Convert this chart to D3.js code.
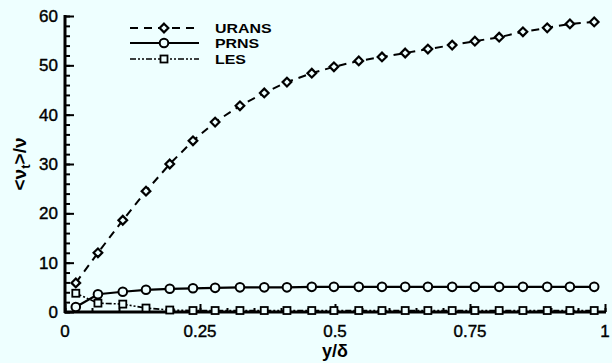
<!DOCTYPE html>
<html>
<head>
<meta charset="utf-8">
<script src="https://cdn.jsdelivr.net/npm/d3@7"></script>
<style>
  html, body { margin: 0; padding: 0; background: #eeffff; }
  svg { display: block; font-family: "Liberation Sans", Arial, sans-serif; }
</style>
</head>
<body>
<div id="chart"></div>
<script>
// y/delta positions of the samples (same for every series)
var yPos = [0.02, 0.061, 0.107, 0.15, 0.194, 0.237, 0.278, 0.324, 0.369, 0.411, 0.457, 0.498,
            0.544, 0.587, 0.63, 0.672, 0.717, 0.759, 0.804, 0.848, 0.893, 0.935, 0.98];

var urans = [5.9, 12.0, 18.6, 24.5, 30.0, 34.7, 38.5, 41.8, 44.4, 46.6, 48.4, 49.7,
             50.9, 51.7, 52.5, 53.3, 54.1, 54.9, 55.7, 56.8, 57.6, 58.4, 58.8];
var prns  = [1.0, 3.6, 4.1, 4.5, 4.7, 4.8, 4.9, 5.0, 5.0, 5.0, 5.1, 5.1,
             5.1, 5.1, 5.1, 5.1, 5.1, 5.1, 5.1, 5.1, 5.1, 5.1, 5.1];
var les   = [3.8, 1.8, 1.6, 0.8, 0.4, 0.3, 0.3, 0.3, 0.3, 0.3, 0.3, 0.3,
             0.3, 0.3, 0.3, 0.3, 0.3, 0.3, 0.3, 0.3, 0.3, 0.3, 0.3];

var xTicks = [0, 0.25, 0.5, 0.75, 1];
var xTickLabels = ["0", "0.25", "0.5", "0.75", "1"];
var yTicks = [0, 10, 20, 30, 40, 50, 60];

var seriesNames = ["URANS", "PRNS", "LES"];

const width = 612, height = 363;
const margin = {top: 16, right: 7, bottom: 51, left: 65};

const svg = d3.select("#chart").append("svg")
    .attr("width", width)
    .attr("height", height);

svg.append("rect")
    .attr("width", width).attr("height", height)
    .attr("fill", "#eeffff");

const x = d3.scaleLinear()
    .domain([0, 1])
    .range([margin.left, width - margin.right]);

const y = d3.scaleLinear()
    .domain([0, 60])
    .range([height - margin.bottom, margin.top]);

// series styles
const styles = {
    URANS: {dash: "8,6", width: 2, marker: "diamond"},
    PRNS:  {dash: null, width: 2.2, marker: "circle"},
    LES:   {dash: "6,2,2,2,2,2", width: 1.6, marker: "square"}
};

function drawMarker(g, type, cx, cy) {
    if (type === "diamond") {
        g.append("path")
            .attr("d", d3.symbol(d3.symbolDiamond2, 48)())
            .attr("transform", `translate(${cx},${cy})`)
            .attr("fill", "#eeffff").attr("stroke", "#000").attr("stroke-width", 2.2);
    } else if (type === "circle") {
        g.append("circle")
            .attr("cx", cx).attr("cy", cy).attr("r", 4.3)
            .attr("fill", "#eeffff").attr("stroke", "#000").attr("stroke-width", 2);
    } else {
        g.append("rect")
            .attr("x", cx - 3.5).attr("y", cy - 3.5)
            .attr("width", 7).attr("height", 7)
            .attr("fill", "#eeffff").attr("stroke", "#000").attr("stroke-width", 1.8);
    }
}

const data = {URANS: urans, PRNS: prns, LES: les};

const line = d3.line()
    .x(d => x(d[0]))
    .y(d => y(d[1]));

// axes (drawn before the data so the markers sit on top)
const xMinor = d3.range(0, 1.0001, 0.05);
const yMinor = d3.range(0, 60.0001, 2);

const xAxis = svg.append("g")
    .attr("transform", `translate(0,${y(0)})`);
xAxis.call(d3.axisTop(x).tickValues(xMinor).tickSize(4).tickFormat(""));
xAxis.append("g").call(d3.axisTop(x).tickValues(xTicks).tickSize(8).tickFormat(""));
xAxis.selectAll(".domain").remove();
xAxis.selectAll("line").attr("stroke", "#000").attr("stroke-width", 2);
xAxis.append("line")
    .attr("x1", x(0) - 1).attr("x2", x(1) + 1)
    .attr("stroke", "#000").attr("stroke-width", 3);

xAxis.selectAll(".xlab")
    .data(xTicks)
    .enter().append("text")
    .attr("class", "xlab")
    .attr("x", d => x(d))
    .attr("y", 25)
    .attr("text-anchor", "middle")
    .attr("font-size", 17)
    .attr("fill", "#000")
    .attr("stroke", "#000")
    .attr("stroke-width", 0.4)
    .text((d, i) => xTickLabels[i]);

const yAxis = svg.append("g")
    .attr("transform", `translate(${x(0)},0)`);
yAxis.call(d3.axisRight(y).tickValues(yMinor).tickSize(5).tickFormat(""));
yAxis.append("g").call(d3.axisRight(y).tickValues(yTicks).tickSize(9).tickFormat(""));
yAxis.selectAll(".domain").remove();
yAxis.selectAll("line").attr("stroke", "#000").attr("stroke-width", 2);
yAxis.append("line")
    .attr("y1", y(60) - 1).attr("y2", y(0) + 1)
    .attr("stroke", "#000").attr("stroke-width", 3);

yAxis.selectAll(".ylab")
    .data(yTicks)
    .enter().append("text")
    .attr("class", "ylab")
    .attr("x", -7)
    .attr("y", d => y(d) + 6)
    .attr("text-anchor", "end")
    .attr("font-size", 17)
    .attr("fill", "#000")
    .attr("stroke", "#000")
    .attr("stroke-width", 0.4)
    .text(d => d);

// draw lines then markers (LES first so URANS sits on top)
["LES", "PRNS", "URANS"].forEach(function (name) {
    var pts = yPos.map((p, i) => [p, data[name][i]]);
    var st = styles[name];
    svg.append("path")
        .datum(pts)
        .attr("d", line)
        .attr("fill", "none")
        .attr("stroke", "#000")
        .attr("stroke-width", st.width)
        .attr("stroke-dasharray", st.dash);
    var g = svg.append("g");
    pts.forEach(function (d) {
        drawMarker(g, st.marker, x(d[0]), y(d[1]));
    });
});

// axis titles
svg.append("text")
    .attr("x", x(0.5))
    .attr("y", 357)
    .attr("text-anchor", "middle")
    .attr("font-size", 18)
    .attr("font-weight", "bold")
    .text("y/δ");

const yTitle = svg.append("text")
    .attr("transform", `translate(26,${y(30)}) rotate(-90)`)
    .attr("text-anchor", "middle")
    .attr("font-size", 19)
    .attr("font-weight", "bold");
yTitle.append("tspan").text("<ν");
yTitle.append("tspan").attr("font-size", 13).attr("dy", 4).text("t");
yTitle.append("tspan").attr("dy", -4).text(">/ν");

// legend
const legend = svg.append("g");
const legendY = [28, 43, 59];
seriesNames.forEach(function (name, i) {
    var st = styles[name];
    legend.append("line")
        .attr("x1", 130).attr("x2", 199)
        .attr("y1", legendY[i]).attr("y2", legendY[i])
        .attr("stroke", "#000")
        .attr("stroke-width", st.width)
        .attr("stroke-dasharray", st.dash);
    drawMarker(legend, st.marker, 164, legendY[i]);
    // glyphs in the original are wide, so stretch horizontally
    legend.append("text")
        .attr("transform", `translate(215,${legendY[i] + 5}) scale(1.18,1)`)
        .attr("font-size", 13.5)
        .attr("font-weight", "bold")
        .text(name);
});
</script>
</body>
</html>
